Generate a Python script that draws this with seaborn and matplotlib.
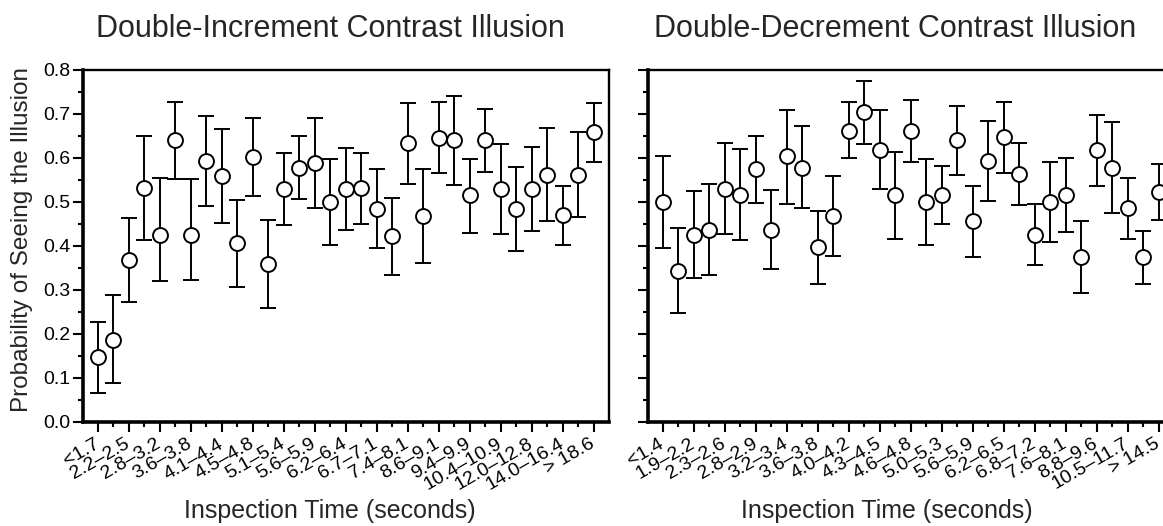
import numpy as np
import pandas as pd
import matplotlib
matplotlib.use("Agg")
import matplotlib.pyplot as plt
import seaborn as sns
from matplotlib.ticker import MultipleLocator, FormatStrFormatter

# Double-increment panel (33 inspection-time bins, labels on every other bin)
inc_labels = ["<1.7", "2.2\u20132.5", "2.8\u20133.2", "3.6\u20133.8", "4.1\u20134.4",
              "4.5\u20134.8", "5.1\u20135.4", "5.6\u20135.9", "6.2\u20136.4", "6.7\u20137.1",
              "7.4\u20138.1", "8.6\u20139.1", "9.4\u20139.9", "10.4\u201310.9",
              "12.0\u201312.8", "14.0\u201316.4", "> 18.6"]
inc_mean = [0.147, 0.187, 0.368, 0.531, 0.426, 0.640, 0.426, 0.593, 0.558, 0.407,
            0.603, 0.360, 0.530, 0.578, 0.588, 0.500, 0.529, 0.531, 0.485, 0.422,
            0.633, 0.469, 0.646, 0.640, 0.515, 0.640, 0.529, 0.484, 0.529, 0.562,
            0.470, 0.562, 0.659]
inc_low = [0.067, 0.088, 0.272, 0.413, 0.320, 0.553, 0.322, 0.492, 0.453, 0.307,
           0.514, 0.260, 0.447, 0.507, 0.486, 0.403, 0.436, 0.450, 0.395, 0.335,
           0.541, 0.362, 0.566, 0.538, 0.430, 0.569, 0.427, 0.389, 0.433, 0.456,
           0.403, 0.467, 0.592]
inc_high = [0.227, 0.288, 0.464, 0.649, 0.555, 0.728, 0.552, 0.695, 0.665, 0.505,
            0.692, 0.459, 0.612, 0.649, 0.690, 0.597, 0.622, 0.612, 0.575, 0.510,
            0.724, 0.576, 0.727, 0.742, 0.598, 0.712, 0.631, 0.579, 0.625, 0.668,
            0.537, 0.658, 0.725]

# Double-decrement panel
dec_labels = ["<1.4", "1.9\u20132.2", "2.3\u20132.6", "2.8\u20132.9", "3.2\u20133.4",
              "3.6\u20133.8", "4.0\u20134.2", "4.3\u20134.5", "4.6\u20134.8", "5.0\u20135.3",
              "5.6\u20135.9", "6.2\u20136.5", "6.8\u20137.2", "7.6\u20138.1", "8.8\u20139.6",
              "10.5\u201311.7", "> 14.5"]
dec_mean = [0.500, 0.344, 0.426, 0.437, 0.530, 0.516, 0.574, 0.437, 0.604, 0.578,
            0.397, 0.468, 0.662, 0.704, 0.619, 0.516, 0.662, 0.501, 0.515, 0.641,
            0.457, 0.594, 0.648, 0.563, 0.426, 0.500, 0.515, 0.375, 0.618, 0.578,
            0.486, 0.375, 0.522]
dec_low = [0.395, 0.247, 0.328, 0.334, 0.427, 0.413, 0.497, 0.347, 0.496, 0.486,
           0.314, 0.378, 0.599, 0.632, 0.529, 0.417, 0.591, 0.403, 0.449, 0.562,
           0.375, 0.502, 0.567, 0.493, 0.356, 0.409, 0.431, 0.293, 0.537, 0.474,
           0.416, 0.314, 0.459]
dec_high = [0.605, 0.440, 0.525, 0.540, 0.633, 0.620, 0.650, 0.527, 0.710, 0.672,
            0.480, 0.560, 0.727, 0.776, 0.708, 0.614, 0.732, 0.598, 0.582, 0.719,
            0.537, 0.685, 0.728, 0.633, 0.496, 0.591, 0.600, 0.457, 0.698, 0.682,
            0.555, 0.435, 0.586]

sns.set_theme(style="ticks")
plt.rcParams['font.family'] = ['Liberation Sans', 'DejaVu Sans']

W, H = 1163, 526
fig = plt.figure(figsize=(W / 100, H / 100), dpi=100)
ax_l = fig.add_axes([83 / W, 1 - 422 / H, 526 / W, 352 / H])
ax_r = fig.add_axes([648 / W, 1 - 422 / H, 526 / W, 352 / H])


def draw_panel(ax, labels, mean, low, high, show_ylabels):
    df = pd.DataFrame({"bin": np.arange(len(mean)), "p": mean,
                       "low": low, "high": high})
    ax.errorbar(df["bin"], df["p"], yerr=[df["p"] - df["low"], df["high"] - df["p"]],
                fmt="none", ecolor="black", elinewidth=1.4, capsize=5.8,
                capthick=1.4, zorder=2)
    sns.scatterplot(data=df, x="bin", y="p", ax=ax, s=115, color="white",
                    edgecolor="black", linewidth=1.4, zorder=3, legend=False)
    ax.set_xlim(-0.95, 33.0)
    ax.set_ylim(0, 0.8)
    ax.set_xticks(np.arange(0, len(mean), 2))
    ax.set_xticks(np.arange(1, len(mean), 2), minor=True)
    ax.set_xticklabels(labels, rotation=30, ha="right", va="center",
                       rotation_mode="anchor", fontsize=13.5)
    ax.yaxis.set_major_locator(MultipleLocator(0.1))
    ax.yaxis.set_minor_locator(MultipleLocator(0.05))
    ax.yaxis.set_major_formatter(FormatStrFormatter("%.1f"))
    ax.tick_params(which="major", direction="out", length=7, width=1.5,
                   color="black", labelcolor="black", labelsize=14, pad=2)
    ax.tick_params(axis="x", which="major", pad=8)
    ax.tick_params(which="minor", direction="out", length=3.5, width=1.5,
                   color="black")
    if not show_ylabels:
        ax.tick_params(axis="y", labelleft=False)
    for side in ["left", "bottom"]:
        ax.spines[side].set_linewidth(2.6)
    for side in ["top", "right"]:
        ax.spines[side].set_linewidth(1.7)
    for sp in ax.spines.values():
        sp.set_color("black")
    ax.set_xlabel("")
    ax.set_ylabel("")


draw_panel(ax_l, inc_labels, inc_mean, inc_low, inc_high, True)
draw_panel(ax_r, dec_labels, dec_mean, dec_low, dec_high, False)

fig.text(330 / W, 1 - 37 / H, "Double-Increment Contrast Illusion",
         ha="center", va="baseline", fontsize=22)
fig.text(895 / W, 1 - 37 / H, "Double-Decrement Contrast Illusion",
         ha="center", va="baseline", fontsize=22)
fig.text(330 / W, 1 - 518 / H, "Inspection Time (seconds)",
         ha="center", va="baseline", fontsize=18)
fig.text(887 / W, 1 - 518 / H, "Inspection Time (seconds)",
         ha="center", va="baseline", fontsize=18)
fig.text(22 / W, 1 - 239 / H, "Probability of Seeing the Illusion",
         ha="center", va="center", rotation=90, fontsize=17.5)

fig.savefig("out.png", dpi=100)
